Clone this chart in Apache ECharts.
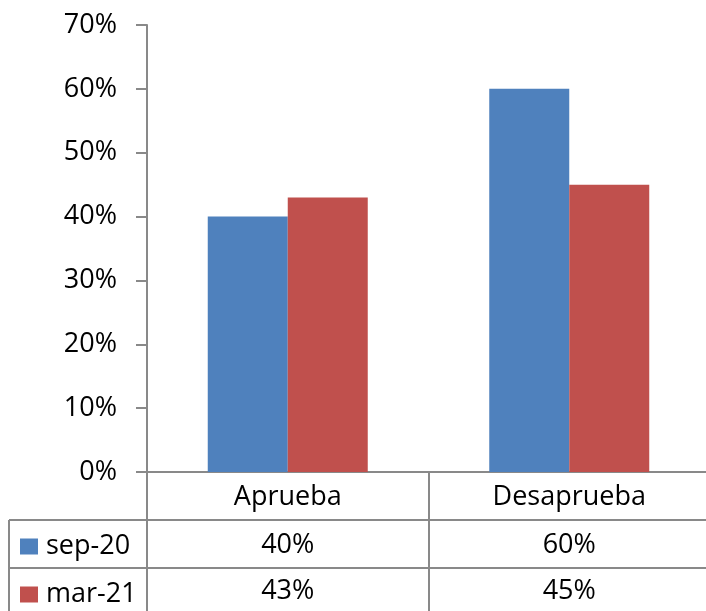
<!DOCTYPE html>
<html>
<head>
<meta charset="utf-8">
<script src="https://cdn.jsdelivr.net/npm/echarts@6/dist/echarts.min.js"></script>
<style>
html,body{margin:0;padding:0;background:#fff;}
#chart{width:706px;height:611px;}
</style>
</head>
<body>
<div id="chart"></div>
<script>
const categories = ['Aprueba', 'Desaprueba'];
const seriesNames = ['sep-20', 'mar-21'];
const sep20 = [0.40, 0.60];
const mar21 = [0.43, 0.45];
const yTicks = [0, 0.1, 0.2, 0.3, 0.4, 0.5, 0.6, 0.7];

const FONT = 'Open Sans';
const FS = 27;
const GRID_LEFT = 147, GRID_TOP = 25, GRID_BOTTOM = 139, GRID_WIDTH = 563;
const ROW_H = 48;
const LINE = '#898989';

const pct = v => Math.round(v * 100) + '%';

const chart = echarts.init(document.getElementById('chart'), null, {renderer: 'canvas'});
const H = 611, W = 706;
const axisY = H - GRID_BOTTOM;

const option = {
  animation: false,
  backgroundColor: '#fff',
  textStyle: {fontFamily: FONT},
  grid: {left: GRID_LEFT, width: GRID_WIDTH, top: GRID_TOP, bottom: GRID_BOTTOM,
         containLabel: false, outerBoundsMode: 'none'},
  legend: {
    orient: 'vertical',
    left: 20,
    top: axisY + ROW_H + 13,
    padding: 0,
    itemWidth: 18,
    itemHeight: 16,
    itemGap: ROW_H - 27,
    icon: 'rect',
    selectedMode: false,
    data: seriesNames,
    textStyle: {fontFamily: FONT, fontSize: FS, color: '#000', lineHeight: 27, padding: [0, 0, 0, 3]}
  },
  xAxis: [
    {
      type: 'category', data: categories, position: 'bottom',
      axisLine: {show: true, lineStyle: {color: LINE, width: 2}},
      axisTick: {show: true, length: GRID_BOTTOM, lineStyle: {color: LINE, width: 2}},
      axisLabel: {fontFamily: FONT, fontSize: FS, color: '#000', margin: 12, lineHeight: 27},
      splitLine: {show: false}
    },
    {
      type: 'category', data: sep20.map(pct), position: 'bottom', offset: ROW_H,
      axisLine: {show: false}, axisTick: {show: false},
      axisLabel: {fontFamily: FONT, fontSize: FS, color: '#000', margin: 12, lineHeight: 27}
    },
    {
      type: 'category', data: mar21.map(pct), position: 'bottom', offset: ROW_H * 2,
      axisLine: {show: false}, axisTick: {show: false},
      axisLabel: {fontFamily: FONT, fontSize: FS, color: '#000', margin: 10, lineHeight: 27}
    }
  ],
  yAxis: {
    type: 'value', min: yTicks[0], max: yTicks[yTicks.length - 1], interval: 0.1,
    axisLine: {show: true, lineStyle: {color: LINE, width: 2}},
    axisTick: {show: true, length: 11, lineStyle: {color: LINE, width: 2}},
    axisLabel: {fontFamily: FONT, fontSize: FS, color: '#000', margin: 30, formatter: v => pct(v)},
    splitLine: {show: false}
  },
  series: [
    {name: seriesNames[0], type: 'bar', xAxisIndex: 0, data: sep20, barWidth: 80, barGap: '0%',
     itemStyle: {color: '#4F81BD'}},
    {name: seriesNames[1], type: 'bar', xAxisIndex: 0, data: mar21, barWidth: 80, barGap: '0%',
     itemStyle: {color: '#C0504D'}}
  ]
};
chart.setOption(option);

// table borders (row separators and left border)
const tableLeft = 9;
const row1 = axisY + ROW_H, row2 = axisY + ROW_H * 2;
const ls = {stroke: LINE, lineWidth: 2};
chart.setOption({
  graphic: [
    {type: 'line', shape: {x1: tableLeft, y1: row1, x2: W, y2: row1}, style: ls, silent: true},
    {type: 'line', shape: {x1: tableLeft, y1: row2, x2: W, y2: row2}, style: ls, silent: true},
    {type: 'line', shape: {x1: tableLeft, y1: row1, x2: tableLeft, y2: H}, style: ls, silent: true}
  ]
});
</script>
</body>
</html>
